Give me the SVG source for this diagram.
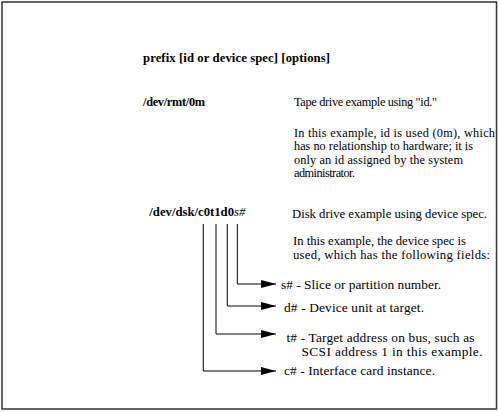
<svg xmlns="http://www.w3.org/2000/svg" width="499" height="412" viewBox="0 0 499 412">
<style>
text{font-family:"Liberation Serif","Times New Roman",serif;font-size:12.3px;fill:#000}
.b{font-weight:bold}
.i{font-style:italic;font-weight:normal}
.m{font-size:12.7px}
.f{font-size:13.4px}
.conn{fill:none;stroke:#000;stroke-width:1}
</style>
<defs>
<marker id="ah" markerUnits="userSpaceOnUse" markerWidth="16" markerHeight="10" refX="15" refY="4" orient="auto">
<path d="M0,0 L15,4 L0,8 Z" fill="#000"/>
</marker>
</defs>
<rect x="2" y="2" width="494.5" height="407" fill="#fff" stroke="#333" stroke-width="1.5"/>
<g id="syntax"><text class="b m" x="143" y="62" textLength="187">prefix [id or device spec] [options]</text></g>
<g id="tape">
<text class="b" x="143" y="106" textLength="62">/dev/rmt/0m</text>
<text x="294" y="106" textLength="143">Tape drive example using "id."</text>
<text x="294" y="136.5" textLength="201">In this example, id is used (0m), which</text>
<text x="294" y="150" textLength="179">has no relationship to hardware; it is</text>
<text x="294" y="163.5" textLength="169">only an id assigned by the system</text>
<text x="294" y="177" textLength="61">administrator.</text>
</g>
<g id="disk">
<text class="b m" x="149.3" y="216" textLength="96">/dev/dsk/c0t1d0<tspan class="i">s#</tspan></text>
<text class="m" x="292" y="218" textLength="195">Disk drive example using device spec.</text>
<text class="m" x="293" y="245" textLength="173">In this example, the device spec is</text>
<text class="m" x="293" y="259" textLength="197">used, which has the following fields:</text>
</g>
<g id="field-s"><text class="f" x="281" y="288.5" textLength="160">s# -  Slice or partition number.</text></g>
<g id="field-d"><text class="f" x="284" y="311.5" textLength="140">d# - Device unit at target.</text></g>
<g id="field-t"><text class="f" x="286.5" y="341.5" textLength="188">t# - Target address on bus, such as</text><text class="f" x="301.5" y="356" textLength="181">SCSI address 1 in this example.</text></g>
<g id="field-c"><text class="f" x="284" y="375" textLength="151">c# - Interface card instance.</text></g>
<g id="connectors">
<path class="conn" d="M237.3 224 V284 H276" marker-end="url(#ah)"/>
<path class="conn" d="M227.3 224 V306 H276" marker-end="url(#ah)"/>
<path class="conn" d="M216 224 V334 H276" marker-end="url(#ah)"/>
<path class="conn" d="M203.3 224 V371 H276" marker-end="url(#ah)"/>
</g>
</svg>
